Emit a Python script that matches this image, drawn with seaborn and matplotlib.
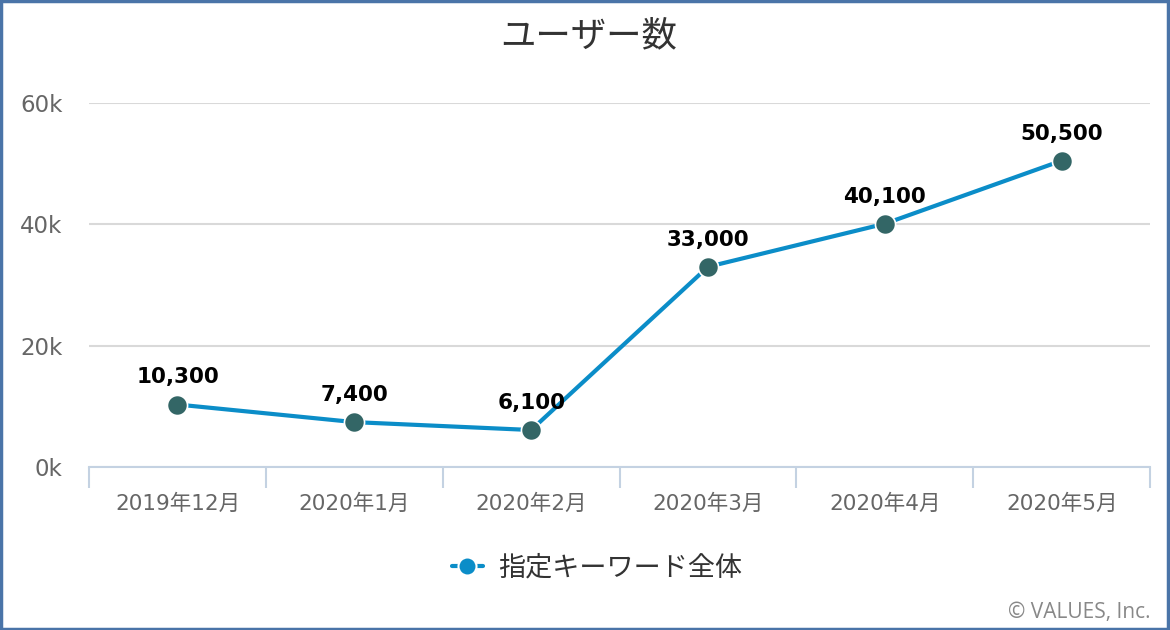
import matplotlib
matplotlib.use("Agg")
import matplotlib.pyplot as plt
from matplotlib.lines import Line2D
from matplotlib.patches import Rectangle
from matplotlib.ticker import FixedLocator
import seaborn as sns
import pandas as pd

categories = ["2019年12月", "2020年1月", "2020年2月", "2020年3月", "2020年4月", "2020年5月"]
users = [10300, 7400, 6100, 33000, 40100, 50500]
yticks = [0, 20000, 40000, 60000]
ytick_labels = ["0k", "20k", "40k", "60k"]
series_name = "指定キーワード全体"
title = "ユーザー数"
credit = "© VALUES, Inc."

LINE = "#0b8dc8"
MARK = "#336666"
GRID = "#d9d9d9"
AXIS = "#c4d2e2"
TXT = "#666666"

sns.set_theme(style="white")
plt.rcParams["font.family"] = ["DejaVu Sans", "Noto Sans CJK JP"]

df = pd.DataFrame({"x": range(len(categories)), "y": users})

fig = plt.figure(figsize=(11.7, 6.3), dpi=100)
ax = fig.add_axes([0.0761, 0.2587, 0.9069, 0.5778])

sns.lineplot(data=df, x="x", y="y", color=LINE, lw=3, ax=ax, zorder=3)
sns.scatterplot(data=df, x="x", y="y", color=MARK, s=210, edgecolor="white",
                linewidth=1.2, ax=ax, zorder=4)

for xi, yi in zip(df["x"], df["y"]):
    ax.annotate(f"{yi:,}", (xi, yi), xytext=(0, 19.5), textcoords="offset points",
                ha="center", va="center", fontsize=15.5, fontweight="bold",
                color="black", family=["DejaVu Sans"])

ax.set_xlim(-0.5, len(categories) - 0.5)
ax.set_ylim(0, 60000)
ax.set_xlabel("")
ax.set_ylabel("")

ax.set_yticks(yticks)
ax.set_yticklabels(ytick_labels)
ax.yaxis.grid(True, color=GRID, lw=1.5)
ax.set_axisbelow(True)

ax.set_xticks(range(len(categories)))
ax.set_xticklabels(categories)
ax.xaxis.set_minor_locator(FixedLocator([i - 0.5 for i in range(len(categories) + 1)]))
ax.tick_params(axis="x", which="major", length=0, pad=19, labelsize=15.5, labelcolor=TXT)
ax.tick_params(axis="x", which="minor", length=15, width=1.5, color=AXIS, direction="out", bottom=True)
ax.tick_params(axis="y", length=0, pad=19, labelsize=16.5, labelcolor=TXT)
for lab in ax.get_xticklabels():
    lab.set_family(["DejaVu Sans", "Noto Sans CJK JP"])

for s in ["top", "right", "left"]:
    ax.spines[s].set_visible(False)
ax.spines["bottom"].set_color(AXIS)
ax.spines["bottom"].set_linewidth(1.5)

fig.text(0.503, 0.942, title, ha="center", va="center", fontsize=25.5,
         color="#333333", family=["Noto Sans CJK JP"])

handle = Line2D([0], [0], color=LINE, lw=3, marker="o", markersize=13,
                markerfacecolor=LINE, markeredgecolor="white", markeredgewidth=1.5)
leg = fig.legend([handle], [series_name], loc="center", bbox_to_anchor=(0.51, 0.098),
                 frameon=False, handlelength=1.15, handletextpad=0.55,
                 prop={"family": ["Noto Sans CJK JP"], "size": 19.5})
for t in leg.get_texts():
    t.set_color("#333333")

fig.text(0.983, 0.028, credit, ha="right", va="center", fontsize=15,
         color="#888888", family=["Open Sans", "DejaVu Sans"])

fig.patches.append(Rectangle((0.001, 0.002), 0.997, 0.996, transform=fig.transFigure,
                             fill=False, edgecolor="#4a74a8", lw=2.5, zorder=10))

fig.savefig("out.png", dpi=100)
